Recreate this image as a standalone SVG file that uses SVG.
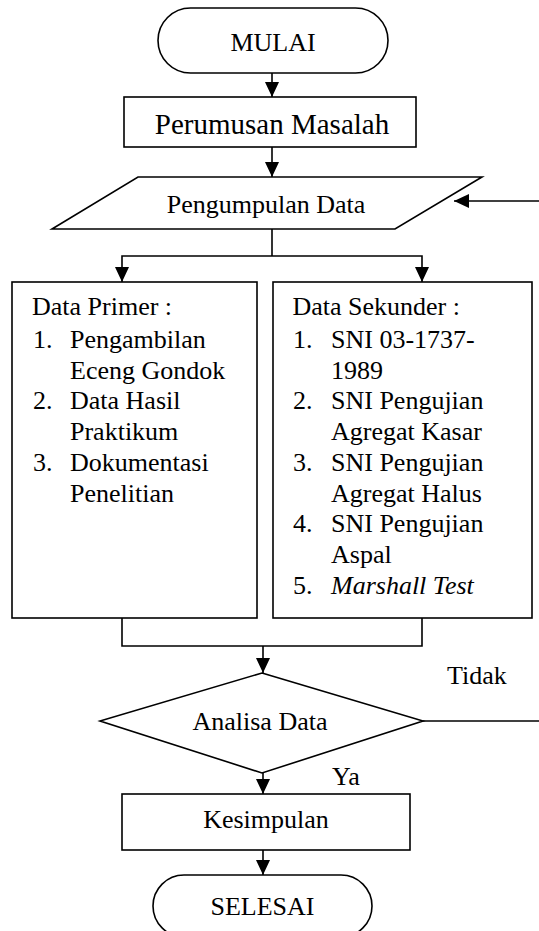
<svg xmlns="http://www.w3.org/2000/svg" width="539" height="931" viewBox="0 0 539 931">
<style>
.s{fill:#fff;stroke:#000;stroke-width:1.6}
.l{fill:none;stroke:#000;stroke-width:1.6}
.a{marker-end:url(#ah)}
text{font-family:"Liberation Serif","Times New Roman",Times,"DejaVu Serif",serif;font-size:26px;fill:#000}
.c{text-anchor:middle}
</style>
<defs>
<marker id="ah" viewBox="0 0 15 14" refX="15" refY="7" markerWidth="15" markerHeight="14" markerUnits="userSpaceOnUse" orient="auto">
<path d="M0,0 L15,7 L0,14 z" fill="#000"/>
</marker>
</defs>
<rect width="539" height="931" fill="#fff"/>
<g id="connectors">
<line class="l a" x1="272" y1="73" x2="272" y2="97"/>
<line class="l a" x1="272" y1="147" x2="272" y2="177"/>
<polyline class="l" points="272,229 272,256"/>
<polyline class="l a" points="272,256 122,256 122,282"/>
<polyline class="l a" points="272,256 422,256 422,282"/>
<line class="l a" x1="539" y1="201" x2="454" y2="201"/>
<polyline class="l" points="122,618 122,646 422,646 422,618"/>
<line class="l a" x1="263" y1="646" x2="263" y2="673"/>
<line class="l" x1="423" y1="721" x2="539" y2="721"/>
<line class="l a" x1="263" y1="773" x2="263" y2="794"/>
<line class="l a" x1="263" y1="850" x2="263" y2="875"/>
<text x="447" y="684">Tidak</text>
<text x="332" y="785">Ya</text>
</g>
<g id="mulai">
<rect class="s" x="158" y="8" width="230" height="65" rx="32.5"/>
<text class="c" x="273" y="51">MULAI</text>
</g>
<g id="perumusan">
<rect class="s" x="124" y="97" width="292" height="50"/>
<text class="c" x="272" y="134" style="font-size:29px">Perumusan Masalah</text>
</g>
<g id="pengumpulan">
<polygon class="s" points="138,177 482,177 395,229 52,229"/>
<text class="c" x="266" y="213">Pengumpulan Data</text>
</g>
<g id="primer">
<rect class="s" x="12" y="282" width="245" height="336"/>
<text x="32" y="315">Data Primer :</text>
<text x="33" y="348">1.</text><text x="70" y="348">Pengambilan</text>
<text x="70" y="378.7">Eceng Gondok</text>
<text x="33" y="409.4">2.</text><text x="70" y="409.4">Data Hasil</text>
<text x="70" y="440.1">Praktikum</text>
<text x="33" y="470.8">3.</text><text x="70" y="470.8">Dokumentasi</text>
<text x="70" y="501.5">Penelitian</text>
</g>
<g id="sekunder">
<rect class="s" x="273" y="282" width="259" height="336"/>
<text x="292.5" y="315">Data Sekunder :</text>
<text x="293" y="348">1.</text><text x="331" y="348">SNI 03-1737-</text>
<text x="331" y="378.7">1989</text>
<text x="293" y="409.4">2.</text><text x="331" y="409.4">SNI Pengujian</text>
<text x="331" y="440.1">Agregat Kasar</text>
<text x="293" y="470.8">3.</text><text x="331" y="470.8">SNI Pengujian</text>
<text x="331" y="501.5">Agregat Halus</text>
<text x="293" y="532.2">4.</text><text x="331" y="532.2">SNI Pengujian</text>
<text x="331" y="562.9">Aspal</text>
<text x="293" y="593.6">5.</text><text x="331" y="593.6" font-style="italic">Marshall Test</text>
</g>
<g id="analisa">
<polygon class="s" points="262,673 423,721 262,773 100,721"/>
<text class="c" x="260" y="730">Analisa Data</text>
</g>
<g id="kesimpulan">
<rect class="s" x="122" y="794" width="288" height="56"/>
<text class="c" x="266" y="828">Kesimpulan</text>
</g>
<g id="selesai">
<rect class="s" x="153" y="875" width="219" height="62" rx="31"/>
<text class="c" x="262.5" y="915">SELESAI</text>
</g>
</svg>
